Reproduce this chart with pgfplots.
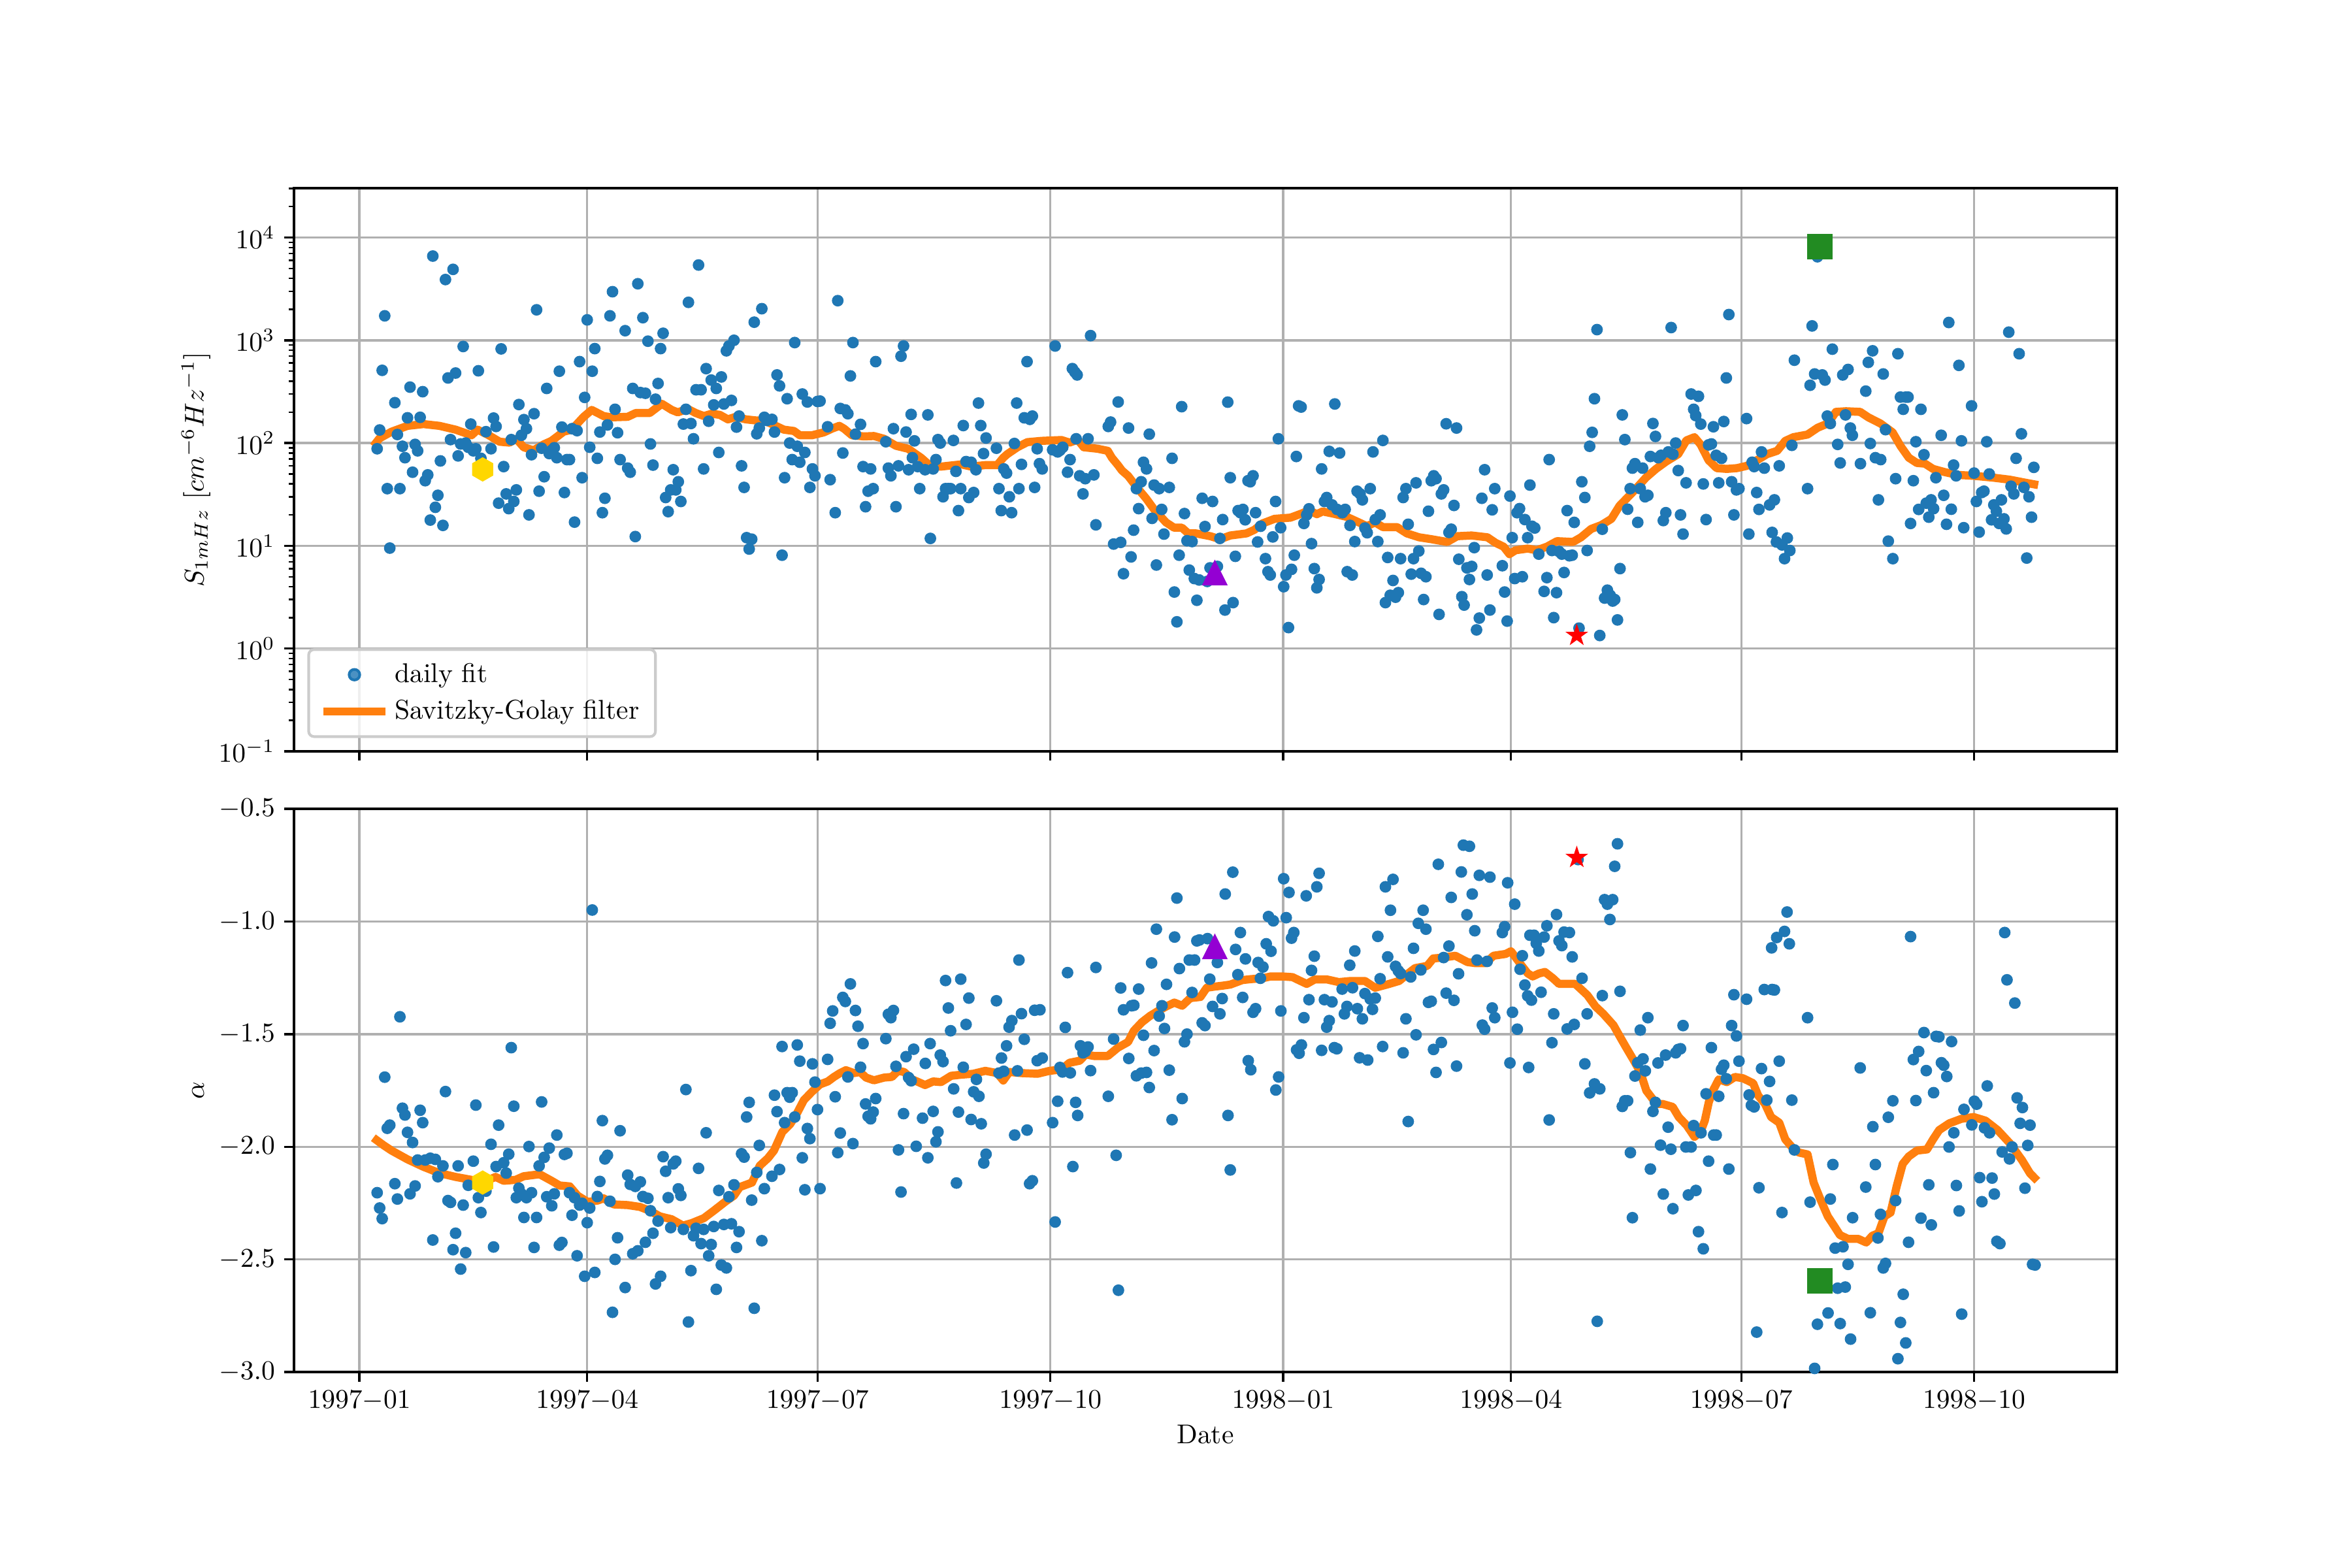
\documentclass[border=0pt]{standalone}
\usepackage{pgfplots}
\pgfplotsset{compat=1.18}
\usepackage{pgfplotstable}
\usetikzlibrary{plotmarks}
\definecolor{mplblue}{HTML}{1F77B4}
\definecolor{mplorange}{HTML}{FF7F0E}
\definecolor{mgold}{RGB}{255,215,0}
\definecolor{mviolet}{RGB}{148,0,211}
\definecolor{mgreen}{RGB}{34,139,34}
\definecolor{mred}{RGB}{255,0,0}
\pgfdeclareplotmark{hexa}{%
  \pgfpathmoveto{\pgfpointpolar{90}{\pgfplotmarksize}}%
  \pgfpathlineto{\pgfpointpolar{150}{\pgfplotmarksize}}%
  \pgfpathlineto{\pgfpointpolar{210}{\pgfplotmarksize}}%
  \pgfpathlineto{\pgfpointpolar{270}{\pgfplotmarksize}}%
  \pgfpathlineto{\pgfpointpolar{330}{\pgfplotmarksize}}%
  \pgfpathlineto{\pgfpointpolar{30}{\pgfplotmarksize}}%
  \pgfpathclose\pgfusepathqfill}
\pgfdeclareplotmark{mtri}{%
  \pgfpathmoveto{\pgfpoint{0pt}{\pgfplotmarksize}}%
  \pgfpathlineto{\pgfpoint{-\pgfplotmarksize}{-\pgfplotmarksize}}%
  \pgfpathlineto{\pgfpoint{\pgfplotmarksize}{-\pgfplotmarksize}}%
  \pgfpathclose\pgfusepathqfill}
\pgfdeclareplotmark{fstar}{%
  \pgfpathmoveto{\pgfpointpolar{90}{\pgfplotmarksize}}%
  \pgfpathlineto{\pgfpointpolar{126}{0.382\pgfplotmarksize}}%
  \pgfpathlineto{\pgfpointpolar{162}{\pgfplotmarksize}}%
  \pgfpathlineto{\pgfpointpolar{198}{0.382\pgfplotmarksize}}%
  \pgfpathlineto{\pgfpointpolar{234}{\pgfplotmarksize}}%
  \pgfpathlineto{\pgfpointpolar{270}{0.382\pgfplotmarksize}}%
  \pgfpathlineto{\pgfpointpolar{306}{\pgfplotmarksize}}%
  \pgfpathlineto{\pgfpointpolar{342}{0.382\pgfplotmarksize}}%
  \pgfpathlineto{\pgfpointpolar{18}{\pgfplotmarksize}}%
  \pgfpathlineto{\pgfpointpolar{54}{0.382\pgfplotmarksize}}%
  \pgfpathclose\pgfusepathqfill}

\pgfplotstableread{
x y
7 88
8 134
9 510
10 1730
11 36
12 9.5
14 247
15 121
16 36
17 93
18 72
19 176
20 350
21 52
22 97
23 84
24 178
25 316
26 43
27 49
28 17.8
29 6600
30 23.7
31 31
32 67
33 15.8
34 3900
35 430
36 108
37 4900
38 480
39 75
40 98
41 870
42 100
43 91
44 153
45 84
46 88
47 505
48 71
49 50
50 129
52 88
53 175
54 145
55 26
56 825
57 59
58 32
59 23
60 108
61 27
62 35
63 237
64 119
65 169
66 138
67 20
68 77
69 193
70 1980
71 34
72 89
73 47
74 340
75 79
76 85
77 90
78 72
79 500
80 143
81 33
82 69
83 69
84 138
85 17
86 132
87 620
88 46
89 278
90 1580
91 91
92 500
93 830
94 71
95 128
96 21
97 29
98 150
99 1730
100 2970
101 213
102 126
103 69
105 1240
106 57
107 52
108 340
109 12.3
110 3550
111 310
112 1660
113 305
114 980
115 98
116 61
117 267
118 380
119 830
120 1170
121 29.5
122 21.5
123 35
124 55
125 35
126 42
127 27
128 153
129 213
130 2340
131 155
132 110
133 330
134 5400
135 330
136 56
137 530
138 163
139 410
140 235
141 340
142 81
143 440
144 240
145 790
146 880
147 260
148 1000
149 143
150 183
151 60
152 37
153 12
154 9.3
155 11.6
156 1500
157 123
158 140
159 2030
160 178
161 166
163 170
164 128
165 460
166 360
167 8.1
168 46
169 270
170 100
171 69
172 950
173 93
174 65
175 300
176 81
177 251
178 37
179 56
180 48
181 254
182 256
185 144
186 44
188 21
189 2430
190 217
191 80
192 210
193 193
194 450
195 950
196 122
198 152
199 59
200 24
201 34
202 56
203 36
204 620
208 103
209 57
210 48
211 138
212 24
213 60
214 700
215 880
216 128
217 55
218 190
218.5 72
219.3 105
220.6 59
221.4 36
223.5 55
224.6 188
225.6 11.8
226.7 56
227.8 69
228.6 108
229.5 100
230.6 30
231.6 36
232.7 36
233.6 36
234.7 106
235.7 53
236.7 22
237.6 36
238.6 148
239.7 66
240.8 29.5
241.7 65
242.7 33
243.6 55
244.6 245
245.5 148
246.6 79
247.6 112
251.7 89
252.7 36
253.6 22
254.6 56
255.7 51
256.8 30
257.7 21
258.8 99
259.7 245
260.6 36
261.6 62
262.7 176
263.8 620
264.9 170
265.9 183
266.8 37
267.8 88
268.7 63
269.8 56
273.9 86
274.9 880
275.9 82
276.8 85
277.9 91
279.8 52
280.8 69
281.7 530
282.7 490
283.6 460
283.2 110
284.6 48
285.9 32
286.8 45
287.9 110
288.9 1110
290.2 49
291 16
295.9 145
296.8 160
298 10.4
299.8 251
300.8 10.8
301.9 5.35
303.9 140
304.9 7.8
305.9 14.2
307 36
307.9 23
308.9 42
309.8 65
311 56
312.1 122
313.2 18.5
314 39
314.9 6.5
316 36
317 22.6
317.9 13
320 37
321.1 71
322 3.55
323 1.82
323.9 8.1
324.9 226
326 20.6
327 11.2
327.9 5.8
329 11
329.9 4.8
330.9 2.95
331.8 4.65
333 29
334.1 15.4
335 4.5
336.1 6.1
337.1 27
339 6.3
340 11.8
341.1 18
342 2.37
343.1 250
344.1 46
345.2 2.8
346.1 7.9
347.2 22
348.1 21
349.1 22.6
350 17.9
351.1 43
352 42
353.1 48
354.1 21
354.9 10.9
356.1 15.5
358 7.5
359 5.6
359.9 5.2
360.9 12.2
362 27
363.1 110
364 15
365.2 4.0
366.1 5.2
367.1 1.6
368.3 5.9
369.4 8.1
370.2 74
371.1 230
372.1 224
373.2 16.5
374.3 20
375.2 22.9
376.2 10.5
377.3 6.0
378.3 3.9
379.2 4.7
380.2 56
381.3 27
382.2 29.5
383.2 83
384.3 25
385.4 240
386.3 22.6
387.3 80
388.4 21
389.5 22.6
390.3 5.6
391.4 15.8
392.3 5.2
393.3 11
394.2 34
395.4 32
396.3 28
397.3 14.9
398.2 13.4
399.4 36
400.5 82
401.4 18
402.4 11
403.3 20
404.4 106
405.4 2.8
406.3 7.7
407.3 3.3
408.4 4.6
409.4 3.16
410.5 3.5
411.4 7.5
412.4 29.5
413.5 36
414.4 16.2
415.6 5.3
416.5 7.5
417.5 41
418.6 8.9
419.5 5.4
420.5 3.0
421.4 5.0
422.4 21.7
423.5 43
424.5 48
425.4 45
426.6 2.15
427.5 32
428.4 35
429.4 154
430.5 13.5
431.4 14.5
432.5 24.7
433.5 140
434.4 7.4
435.6 3.2
436.5 2.65
437.6 6.1
438.6 4.7
439.5 6.3
440.5 9.6
441.4 1.52
442.5 1.98
443.5 29
444.6 55
445.6 5.2
446.7 2.37
447.6 22.4
448.6 36
451.6 6.4
452.5 3.55
453.5 1.85
454.6 30.5
455.5 12
456.5 4.8
457.4 21
458.4 23
459.5 5.0
460.5 18
461.6 12
462.5 39
463.3 15.5
464.4 14.9
466 8.3
468.1 3.6
469.2 4.9
470.1 69
471.2 9.0
471.9 2.0
473 3.5
474 8.8
475.1 8.3
476 5.5
477.2 22
478.1 8.0
479.2 8.1
480 16.9
481.9 1.58
483 42
484.2 29.5
485.1 9.0
486.1 93
487.1 127
488 270
489 1270
490.1 1.34
491.1 14.5
492 3.1
493.1 3.7
494.2 3.3
495.2 2.9
496 3.0
497.1 1.9
498.1 6.0
499 188
500 108
501.1 22.7
502.1 36
503 57
504 63
505.1 16.9
506.1 36
507 57
508 30
509.1 31
510.1 74
511.1 155
512.1 116
513.2 72
514.3 76
515.2 17.6
516.2 21
517.2 82
518.3 1330
519 78
520.1 100
521.1 54
522 20
523 13
524.2 41
526.2 300
527.2 213
528 185
529.1 285
530 153
531 40
532.1 18
533.1 96
534.2 98
535 144
536.1 76
537.1 41
538.2 71
539.1 162
540.1 430
541.1 1780
542.2 42
543.1 20
544.1 35
545.1 36
548.1 173
549 13
550.3 65
551.1 59
552.1 33
553 22.6
554 82
555.1 57
557.2 25
558.2 13.5
559.1 28
559.9 10.9
561 60
562.1 10.2
563.1 7.5
564.2 11.9
565.2 9.0
566 95
567 640
572.2 36
573.2 365
574 1380
575 470
576.1 6500
578 460
579.1 410
580 183
581.2 155
582 820
584.1 97
585.1 64
586.1 460
587.2 188
588.2 520
589.1 140
589.9 119
593.1 63
595.2 320
596.2 610
597 99
597.9 790
599 72
600.2 28
601.1 69
602.1 470
603 135
604.1 11.1
605.9 7.5
607 45
607.9 740
608.9 280
610 213
611 280
611.9 280
612.9 16.5
614 43
615 103
616.1 22.6
617 213
618.2 77
619.1 26
620.1 19
621 28
622 23
622.9 46
625 119
626 31
627.1 16.2
628 1490
629 22.7
629.9 61
630.9 48
632 570
633 105
633.9 15
637 230
638 51
638.9 27
640 13.6
641 33
641.9 34
643 103
644 50
644.9 17.9
645.8 25
646.8 21.7
647.9 16.5
648.8 28
649.8 18.3
650.7 14.6
651.7 1200
652.6 38
653.7 32
654.6 71
655.8 740
656.7 123
657.7 37
658.8 7.6
659.7 30
660.7 19
661.6 58
}\topscatter

\pgfplotstableread{
x y
5.5 93
7.9 111
12.7 129
19 147
25.3 153
31.6 147
38 135
44.3 119
46.7 135
50.6 121
55.4 103
59.3 101
62 110
64.9 91
68.8 85
72.8 97
75.9 105
80.7 129
83.9 135
88.6 180
91.8 210
96.5 183
99.7 178
106 180
109.2 196
114.7 196
119.5 241
123.4 210
125.8 199
129.7 215
132.9 196
136.1 183
139.2 193
142.4 188
145.6 170
148.7 180
152.7 170
156.6 166
159.8 166
163 153
167.7 135
171.7 131
174 119
178.8 119
183.5 127
186.7 138
189.6 147
191.5 138
194.6 119
199.4 116
203.3 117
207.3 110
212 94
216.8 88
221.9 72
225.9 59
229.8 59
237.8 62
241.7 59
247.3 61
252 61
254.4 72
256 78
260 91
263.9 102
269.5 105
277.4 107
280.6 101
283.8 108
286.2 91
291.7 88
295.7 84
297.3 72
299.7 61
301.3 54
303.7 48
307.6 36
310.8 29
314 22.6
318.7 16.9
321.9 15
325 15
327.5 13.2
330.6 13.2
336.2 12.4
340.1 11.6
344.1 12.6
350.5 13.2
353.6 14.3
356.8 16.5
361.6 18.3
367.9 18.8
372.7 20.8
375.1 22.2
378.3 20.3
380.6 21.6
385.4 20.4
390.2 19.1
394.9 16.9
398.1 15.5
401.3 16.9
404.4 15.2
410 15.2
413.9 13.2
418.7 12.1
423.5 11.6
429.8 10.9
433.8 12.4
439.4 12.6
445.7 12.1
448.9 10.7
452.1 9.8
454.4 8.3
456.8 9.05
461.6 9.4
465.2 9.05
469.2 9.8
473.2 11.1
479.5 10.9
482.7 12.1
486.7 14.6
490.7 15.9
494.7 18.3
497.9 24.5
503.5 34
508.3 46
512.3 56
516.3 66
521.1 78
524.3 106
527.5 114
529.9 97
533.1 68
536.3 57
540.3 56
544.3 57
548.2 60
552.2 68
556.2 78
560.2 84
563.4 105
566.6 114
572.2 121
576.2 141
580.2 155
583.4 201
587.4 204
593 201
596.2 178
601 155
605.8 127
609 93
612.2 72
615.4 64
618.6 63
621.8 56
626.6 52
631.4 49
637.8 48
645.7 46
652.1 44
658.5 41
663.3 39
}\topline

\pgfplotstableread{
x y
7 -2.204
8 -2.272
9 -2.319
10 -1.691
11 -1.918
12 -1.904
14 -2.164
15 -2.232
16 -1.423
17 -1.829
18 -1.859
19 -1.936
20 -2.209
21 -1.981
22 -2.174
23 -2.059
24 -1.838
25 -1.893
26 -2.059
28 -2.051
29 -2.414
30 -2.056
31 -2.133
33 -2.085
34 -1.755
35 -2.239
36 -2.247
37 -2.457
38 -2.384
39 -2.085
40 -2.543
41 -2.259
42 -2.470
43 -2.171
45 -2.064
46 -1.815
47 -2.226
48 -2.292
50 -2.197
52 -1.989
53 -2.445
54 -2.088
55 -1.904
57 -2.071
58 -2.117
59 -2.033
60 -1.560
61 -1.820
62 -2.226
63 -2.184
64 -2.209
65 -2.314
66 -2.226
67 -1.999
68 -2.204
69 -2.447
70 -2.314
71 -2.085
72 -1.801
73 -2.047
74 -2.222
75 -2.006
76 -2.262
77 -2.209
78 -1.948
79 -2.437
80 -2.425
81 -2.034
82 -2.029
83 -2.204
84 -2.304
85 -2.226
86 -2.484
87 -2.259
88 -2.251
89 -2.575
90 -2.337
91 -2.272
92 -0.949
93 -2.558
94 -2.221
95 -2.154
96 -1.884
97 -2.054
98 -2.038
99 -2.242
100 -2.735
101 -2.500
102 -2.404
103 -1.929
105 -2.625
106 -2.126
107 -2.167
108 -2.475
109 -2.176
110 -2.462
111 -2.156
112 -2.221
113 -2.424
114 -2.229
115 -2.284
116 -2.384
117 -2.609
118 -2.330
119 -2.575
120 -2.044
121 -2.109
122 -2.226
123 -2.359
124 -2.076
125 -2.064
126 -2.187
127 -2.216
128 -2.367
129 -1.746
130 -2.778
131 -2.550
132 -2.395
133 -2.362
134 -2.096
135 -2.430
136 -2.367
137 -1.938
138 -2.484
139 -2.434
140 -2.354
141 -2.633
142 -2.194
143 -2.525
144 -2.345
145 -2.538
146 -2.222
147 -2.342
148 -2.169
149 -2.447
150 -2.377
151 -2.031
152 -2.046
153 -1.868
154 -1.803
155 -2.237
156 -2.717
157 -2.114
158 -1.994
159 -2.417
160 -2.186
163 -2.131
164 -1.771
165 -1.844
166 -2.101
167 -1.555
168 -1.893
169 -1.760
170 -1.780
171 -1.760
172 -1.868
173 -1.548
174 -1.620
175 -2.049
176 -2.191
177 -1.919
178 -1.964
179 -1.632
180 -1.713
181 -1.835
182 -2.186
185 -1.612
186 -1.452
187 -1.397
188 -1.778
189 -2.026
190 -1.939
191 -1.337
192 -1.355
193 -1.690
194 -1.277
195 -1.986
196 -1.395
197 -1.465
198 -1.647
199 -1.542
200 -1.810
201 -1.865
202 -1.876
203 -1.846
204 -1.786
208 -1.520
209 -1.412
210 -1.427
211 -1.395
212 -1.643
213 -2.014
214 -2.201
215 -1.853
216 -1.600
217 -1.693
218 -1.707
219 -1.567
220 -1.998
222.5 -1.873
223.6 -1.630
224.6 -2.049
225.5 -1.542
226.7 -1.843
227.8 -1.978
228.6 -1.934
229.5 -1.593
230.6 -1.622
231.6 -1.262
232.7 -1.384
233.6 -1.485
234.8 -1.743
235.9 -2.161
236.7 -1.846
237.6 -1.256
238.6 -1.647
239.7 -1.457
240.8 -1.340
241.7 -1.879
242.7 -1.756
243.8 -1.701
244.8 -1.776
245.7 -1.898
246.7 -2.072
247.6 -2.033
251.7 -1.352
252.7 -1.673
253.7 -1.606
254.6 -1.665
255.7 -1.552
256.7 -1.469
257.8 -1.440
258.9 -1.948
260.0 -1.663
260.6 -1.171
261.6 -1.409
262.7 -1.523
263.8 -1.926
264.8 -2.164
265.9 -2.151
266.8 -1.394
267.8 -1.618
268.9 -1.392
269.8 -1.606
273.9 -1.893
274.9 -2.334
275.9 -1.798
276.8 -1.648
277.8 -1.668
278.9 -1.470
279.8 -1.227
280.9 -1.672
281.9 -2.088
283.0 -1.803
283.8 -1.861
284.9 -1.552
285.9 -1.583
286.8 -1.577
287.9 -1.557
288.9 -1.662
291.0 -1.204
295.9 -1.776
298.0 -1.522
299.0 -2.038
299.9 -2.637
300.8 -1.295
301.9 -1.392
304.0 -1.608
305.1 -1.374
306.0 -1.372
307.0 -1.685
307.9 -1.300
308.9 -1.673
309.8 -1.505
311.0 -1.670
312.1 -1.737
313.0 -1.184
314.0 -1.573
314.9 -1.034
316.0 -1.420
317.1 -1.374
318.1 -1.475
318.9 -1.279
320.0 -1.660
321.1 -1.880
322.1 -1.069
323.0 -0.896
324.0 -1.209
325.1 -1.786
326.0 -1.534
327.0 -1.500
327.9 -1.171
329.0 -1.315
330.0 -1.171
330.9 -1.086
331.9 -1.082
333.0 -1.450
334.1 -1.462
335.1 -1.076
336.0 -1.256
337.1 -1.377
339.0 -1.182
340.0 -1.410
340.9 -1.342
342.1 -0.878
343.2 -1.861
344.1 -2.103
345.1 -0.781
346.2 -1.124
347.1 -1.236
348.1 -1.049
349.0 -1.337
350.1 -1.166
351.2 -1.618
352.2 -1.658
353.1 -1.403
354.1 -1.387
355.1 -1.182
356.0 -1.252
357.0 -1.202
358.3 -1.099
359.2 -0.978
360.2 -1.132
361.1 -0.997
362.1 -1.748
363.2 -1.690
364.1 -1.397
365.2 -0.810
366.2 -0.983
367.3 -0.871
368.3 -1.074
369.2 -1.049
370.3 -1.570
371.3 -1.585
372.2 -1.548
373.2 -1.427
374.1 -0.886
375.2 -1.347
376.2 -1.217
377.3 -1.154
378.3 -0.846
379.2 -0.786
380.2 -1.572
381.3 -1.347
382.2 -1.469
383.2 -1.440
384.3 -1.357
385.2 -1.560
386.2 -1.565
388.3 -1.300
389.2 -1.410
390.2 -1.377
391.3 -1.194
392.4 -1.294
393.3 -1.131
394.3 -1.387
395.2 -1.605
396.3 -1.432
397.3 -1.320
398.4 -1.615
399.4 -1.344
400.3 -1.390
401.4 -1.340
402.4 -1.066
403.3 -1.254
404.3 -1.555
405.4 -0.846
406.3 -1.157
407.4 -0.950
408.4 -0.813
409.4 -1.199
410.5 -1.219
411.4 -1.231
412.4 -1.583
413.5 -1.432
414.4 -1.888
415.4 -1.246
416.5 -1.119
417.5 -1.503
418.4 -1.008
419.4 -1.215
420.3 -0.950
421.4 -1.034
422.4 -1.359
423.5 -1.354
424.4 -1.568
425.4 -1.670
426.3 -0.746
427.5 -1.537
428.4 -1.160
429.4 -1.318
430.5 -1.109
431.4 -0.893
432.5 -1.350
433.5 -1.642
434.3 -1.232
435.4 -0.780
436.2 -0.661
437.6 -0.970
438.6 -0.666
439.7 -0.878
440.7 -1.041
441.6 -1.171
442.5 -0.795
443.7 -1.460
444.6 -1.478
445.6 -1.177
446.7 -0.803
447.6 -1.384
448.6 -1.427
451.6 -1.049
452.5 -1.023
453.7 -0.828
454.6 -1.628
455.6 -1.403
456.5 -0.923
457.5 -1.478
458.6 -1.212
459.5 -1.152
460.5 -1.282
461.6 -1.330
462.0 -1.648
462.5 -1.061
463.1 -1.349
464.1 -1.061
465.0 -1.097
466.0 -1.131
466.9 -1.314
468.1 -1.069
469.2 -1.019
470.1 -1.881
471.2 -1.538
471.9 -1.410
473.0 -0.969
474.0 -1.086
475.1 -1.107
476.0 -1.047
477.2 -1.477
478.1 -1.049
479.2 -1.157
480.0 -1.457
481.5 -0.725
483.1 -1.252
484.2 -1.632
485.1 -1.410
486.1 -1.761
488.0 -1.721
489.1 -2.775
490.1 -1.743
491.1 -1.329
492.0 -0.903
493.1 -0.923
494.1 -0.991
495.2 -0.903
496.0 -0.755
497.1 -0.655
498.1 -1.310
499.0 -1.821
500.0 -1.796
501.1 -1.796
502.2 -2.026
503.0 -2.315
504.0 -1.686
505.1 -1.627
506.1 -1.482
507.2 -1.610
508.1 -1.663
509.1 -1.427
510.1 -2.099
511.1 -1.843
512.1 -1.803
513.1 -1.628
514.1 -1.993
515.2 -2.210
516.1 -1.593
517.1 -1.913
518.2 -2.011
519.0 -2.275
520.1 -1.583
521.1 -1.568
522.0 -1.565
523.0 -1.462
524.1 -2.001
525.1 -2.214
526.2 -2.001
527.2 -1.906
528.1 -2.194
529.1 -2.377
530.1 -1.938
531.0 -2.453
532.1 -1.765
533.1 -2.064
534.2 -1.560
535.1 -1.948
536.1 -1.948
537.1 -1.776
538.2 -1.656
539.1 -1.638
540.1 -1.698
541.1 -2.099
542.2 -1.462
543.1 -1.325
544.1 -1.508
545.1 -1.620
548.1 -1.345
549.1 -1.770
550.0 -1.816
551.1 -1.823
552.1 -2.823
553.0 -2.182
554.0 -1.653
555.1 -1.302
556.1 -1.793
557.2 -1.710
558.0 -1.117
558.2 -1.302
559.1 -1.304
560.0 -1.071
561.0 -1.620
562.1 -2.292
563.1 -1.044
564.1 -0.958
565.0 -1.099
566.0 -1.793
567.0 -2.014
572.2 -1.427
573.2 -2.246
575.0 -2.984
576.1 -2.788
580.3 -2.738
581.2 -2.232
582.2 -2.079
583.1 -2.450
584.1 -2.628
585.1 -2.785
586.2 -2.444
587.1 -2.623
588.2 -2.522
589.2 -2.854
590.0 -2.315
593.0 -1.650
595.2 -2.179
597.0 -2.737
598.0 -1.911
599.0 -2.079
600.0 -2.405
601.0 -2.300
602.1 -2.538
603.0 -2.518
604.1 -1.869
605.9 -1.796
607.0 -2.239
607.9 -2.941
608.9 -2.780
610.0 -2.655
611.0 -2.871
612.1 -2.424
612.9 -1.067
614.0 -1.613
615.0 -1.795
616.1 -1.577
617.0 -2.317
618.2 -1.493
619.1 -1.662
620.1 -2.169
621.1 -2.347
622.0 -1.760
623.0 -1.510
624.1 -1.512
625.1 -1.627
626.0 -1.638
627.2 -1.688
628.1 -2.001
629.1 -1.533
630.0 -1.938
631.0 -2.172
632.1 -2.285
633.1 -2.743
634.0 -1.834
637.1 -1.903
638.1 -1.798
639.0 -1.811
640.2 -2.137
641.1 -2.244
642.1 -1.916
643.2 -1.730
644.1 -1.938
645.1 -2.139
646.0 -2.210
647.0 -2.420
648.2 -2.430
649.1 -2.023
650.1 -1.049
651.0 -1.259
652.0 -2.054
653.0 -2.001
654.1 -1.362
655.0 -1.783
656.2 -1.896
657.1 -1.826
658.1 -2.184
659.2 -1.994
660.1 -1.904
661.1 -2.522
662.1 -2.525
}\botscatter

\pgfplotstableread{
x y
5.5 -1.960
9.5 -1.993
12.7 -2.017
19 -2.056
25.3 -2.089
31.6 -2.117
38 -2.134
44.3 -2.147
49.1 -2.156
53.8 -2.134
57 -2.151
61.7 -2.147
64.9 -2.131
71.2 -2.122
75.9 -2.151
79.1 -2.172
83.1 -2.176
86.2 -2.217
90.2 -2.245
94.1 -2.239
96.5 -2.229
100.5 -2.256
106 -2.259
110.8 -2.267
114.7 -2.284
118.7 -2.309
123.4 -2.322
127.8 -2.350
131.3 -2.339
136.1 -2.317
140 -2.284
144.8 -2.242
148 -2.217
150.3 -2.179
155.1 -2.159
158.2 -2.084
161.4 -2.051
163.8 -2.017
167.1 -1.934
170.1 -1.901
172.5 -1.860
175.6 -1.793
178.8 -1.756
182 -1.723
185.1 -1.710
187.5 -1.690
189.9 -1.673
192.2 -1.660
195.4 -1.673
197.8 -1.668
200.2 -1.693
203.3 -1.705
207.3 -1.693
210.4 -1.690
212.8 -1.663
215.2 -1.668
218.4 -1.701
220.3 -1.710
223.5 -1.726
226.7 -1.710
229.8 -1.713
233.8 -1.685
237.8 -1.680
242.5 -1.676
247.3 -1.663
252 -1.673
254.4 -1.706
256.8 -1.668
261.6 -1.673
267.9 -1.676
272.7 -1.663
277.4 -1.657
280.6 -1.627
284.6 -1.618
287 -1.590
290.2 -1.597
295.7 -1.597
299.7 -1.560
303.7 -1.535
306 -1.485
309.2 -1.447
312.4 -1.419
315.6 -1.397
318.8 -1.377
322 -1.360
325.1 -1.374
328.3 -1.340
332.3 -1.335
334.8 -1.294
337.9 -1.289
341 -1.285
344.1 -1.280
348.9 -1.260
352.1 -1.256
356.8 -1.252
360 -1.244
364.8 -1.244
368.7 -1.247
371.1 -1.260
374.3 -1.277
377.5 -1.257
382.2 -1.257
387 -1.269
391.7 -1.264
397.3 -1.264
401.3 -1.294
406 -1.280
410.8 -1.264
414.8 -1.227
417.1 -1.207
421.9 -1.197
424.3 -1.164
428.3 -1.160
433 -1.152
437.8 -1.180
441 -1.185
445 -1.185
448.1 -1.152
452.9 -1.144
455 -1.132
456.9 -1.160
459.3 -1.197
461.6 -1.230
463.6 -1.244
466 -1.231
468.4 -1.224
471.6 -1.252
474 -1.277
477.2 -1.277
480.4 -1.277
482.8 -1.302
485.2 -1.327
488.4 -1.377
491.5 -1.410
495.5 -1.460
498 -1.510
500.4 -1.557
503.6 -1.618
506.1 -1.668
508.5 -1.751
512.5 -1.810
514.9 -1.810
518.9 -1.823
521.3 -1.868
524.5 -1.906
527.5 -1.956
529.9 -1.934
531.6 -1.884
533.2 -1.801
534.8 -1.751
537.1 -1.701
540.3 -1.713
543.5 -1.690
546.7 -1.696
550.7 -1.718
552.7 -1.773
555.4 -1.810
557.8 -1.868
561 -1.893
563.4 -1.967
566.6 -2.009
568.9 -2.026
572.2 -2.034
574.6 -2.159
577 -2.226
580.2 -2.309
582.6 -2.350
585 -2.392
588.2 -2.409
592.2 -2.409
595.4 -2.425
597.8 -2.395
600.2 -2.384
602.6 -2.309
605 -2.292
607.4 -2.176
609.8 -2.076
612.2 -2.043
615.4 -2.017
619.4 -2.012
621.8 -1.967
624.2 -1.926
628.2 -1.896
633 -1.876
637.8 -1.868
642.5 -1.884
647.3 -1.926
652.1 -1.984
656.9 -2.059
660.1 -2.118
663 -2.151
}\botline

\pgfplotsset{
  mpl/.style={
    scale only axis,
    width=9.3in, height=2.873in,
    xmin=-25.85, xmax=694.4,
    xtick={0,90,181,273,365,455,546,638},
    tick align=outside,
    tick pos=left,
    major tick length=3.5pt,
    minor tick length=2pt,
    every tick/.style={black, line width=0.8pt},
    minor tick style={black, line width=0.6pt},
    axis line style={line width=0.8pt},
    grid=major,
    major grid style={color=black!31, line width=0.8pt},
    legend image code/.code={\draw[mark repeat=2,mark phase=2,##1] plot coordinates {(0cm,0cm) (0.4cm,0cm) (0.8cm,0cm)};},
  },
  dots/.style={only marks, mark=*, mark size=1.95pt, mark options={fill=mplblue, draw=none}, color=mplblue},
  sg/.style={no marks, color=mplorange, line width=3pt, line join=round},
}

\begin{document}
\begin{tikzpicture}
\useasboundingbox (0,0) rectangle (12in,8in);
\begin{axis}[mpl,
  at={(1.5in,4.1667in)}, anchor=south west,
  xticklabels={},
  ymode=log, log basis y=10,
  ymin=0.1, ymax=30200,
  ytick={0.1,1,10,100,1000,10000},
  minor ytick={0.2,0.3,0.4,0.5,0.6,0.7,0.8,0.9,2,3,4,5,6,7,8,9,20,30,40,50,60,70,80,90,200,300,400,500,600,700,800,900,2000,3000,4000,5000,6000,7000,8000,9000,20000,30000},
  ylabel={$S_{1mHz}\ [cm^{-6}Hz^{-1}]$},
  every axis y label/.style={at={(axis description cs:-0.05376,0.5)}, rotate=90, anchor=center},
  legend cell align=left,
  legend style={at={(0.0073,0.0237)}, anchor=south west, draw=black!20, line width=1pt, rounded corners=2pt, fill=white, fill opacity=0.8, text opacity=1, inner xsep=4pt, inner ysep=3pt, row sep=1pt, font=\normalsize},
]
\addplot[dots] table[x=x,y=y] {\topscatter};
\addlegendentry{daily fit}
\addplot[sg] table[x=x,y=y] {\topline};
\addlegendentry{Savitzky-Golay filter}
\addplot[only marks, mark=hexa, mark size=4.5pt, color=mgold, forget plot] coordinates {(48.7,55.4)};
\addplot[only marks, mark=mtri, mark size=4.75pt, color=mviolet, forget plot] coordinates {(338,5.5)};
\addplot[only marks, mark=fstar, mark size=4.4pt, color=mred, forget plot] coordinates {(481,1.34)};
\addplot[only marks, mark=square*, mark size=4.5pt, color=mgreen, mark options={draw=none}, forget plot] coordinates {(577,8100)};
\end{axis}
\begin{axis}[mpl,
  at={(1.5in,1.0in)}, anchor=south west,
  xticklabels={$1997{-}01$,$1997{-}04$,$1997{-}07$,$1997{-}10$,$1998{-}01$,$1998{-}04$,$1998{-}07$,$1998{-}10$},
  ymin=-3, ymax=-0.5,
  ytick={-3,-2.5,-2,-1.5,-1,-0.5},
  yticklabel style={/pgf/number format/.cd, fixed, fixed zerofill, precision=1},
  xlabel={Date},
  xlabel style={yshift=1.7pt},
  ylabel={$\alpha$},
  every axis y label/.style={at={(axis description cs:-0.05258,0.5)}, rotate=90, anchor=center},
]
\addplot[dots] table[x=x,y=y] {\botscatter};
\addplot[sg] table[x=x,y=y] {\botline};
\addplot[only marks, mark=hexa, mark size=4.5pt, color=mgold] coordinates {(48.7,-2.159)};
\addplot[only marks, mark=mtri, mark size=4.75pt, color=mviolet] coordinates {(338,-1.11)};
\addplot[only marks, mark=fstar, mark size=4.4pt, color=mred] coordinates {(481,-0.716)};
\addplot[only marks, mark=square*, mark size=4.5pt, color=mgreen, mark options={draw=none}] coordinates {(577,-2.595)};
\end{axis}
\end{tikzpicture}
\end{document}
